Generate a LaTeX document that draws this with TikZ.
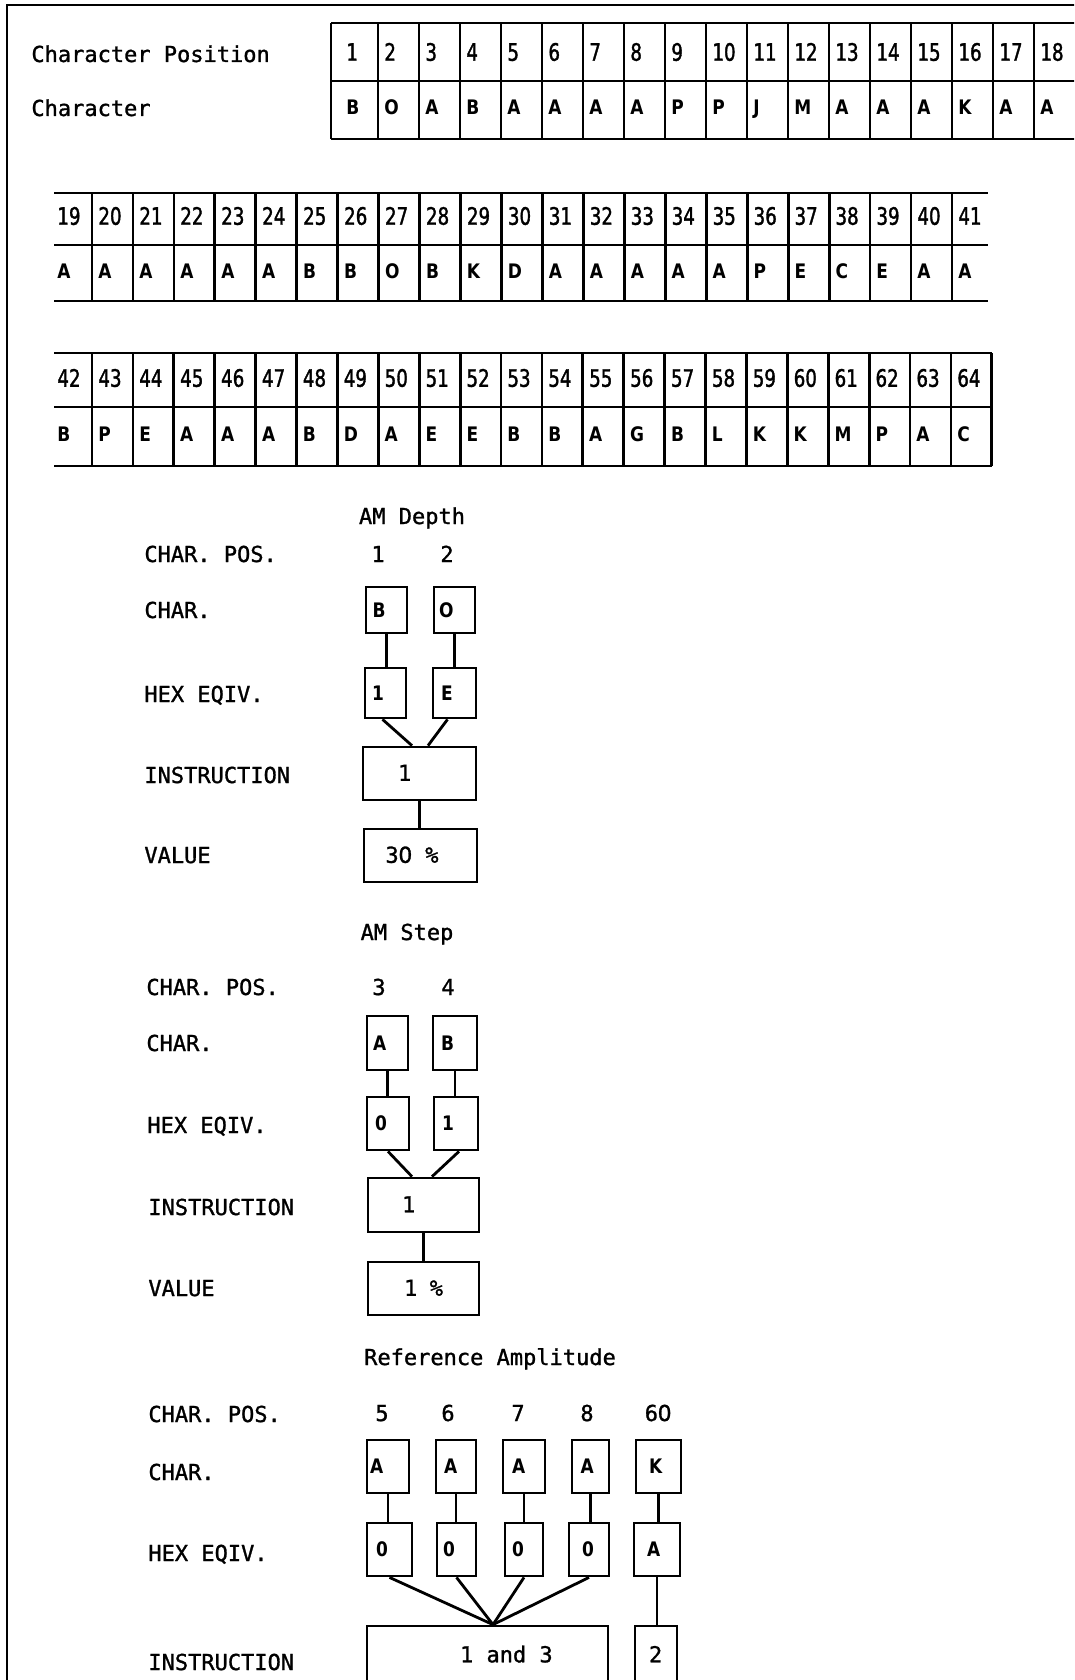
\documentclass[tikz,border=0pt]{standalone}
\usepackage{fontspec}
\newfontfamily\LabFam[FakeBold=1.2]{DejaVu Sans Mono}
\newfontfamily\NumFam[FakeStretch=0.76,FakeBold=1.4]{DejaVu Sans}
\newfontfamily\ZroFam[FakeBold=1.2]{DejaVu Sans}
\newfontfamily\BoxFam[FakeStretch=0.85]{DejaVu Sans}
\newcommand\LabFont{\LabFam\mdseries\fontsize{22}{24}\selectfont}
\newcommand\BxTxt{\LabFont\spaceskip=0pt\relax\xspaceskip=0pt\relax}
\newcommand\NumFont{\NumFam\fontsize{24}{26}\selectfont}
\newcommand\BoxFont{\BoxFam\bfseries\fontsize{20}{22}\selectfont}
\newcommand\Zro{\makebox[0.602em]{\ZroFam\mdseries 0}}
\newcommand\cbox[7]{%
  \pgfmathsetmacro\bxX{(#2+#4)/2}%
  \pgfmathsetmacro\bxY{(#3+#5)/2}%
  \pgfmathsetmacro\bxW{#4-#2}%
  \pgfmathsetmacro\bxH{#5-#3}%
  \pgfmathsetmacro\bxT{\bxW-2*#7}%
  \node[bxs, minimum width=\bxW pt, minimum height=\bxH pt, text width=\bxT pt, inner xsep=#7 pt] (#1) at (\bxX,\bxY) {#6};}
\begin{document}
\begin{tikzpicture}[x=1pt,y=-1pt,line width=2.8pt,
  labst/.style={font=\LabFont, inner sep=0pt, text height=16pt, text depth=0pt},
  numst/.style={font=\NumFont, inner sep=0pt, text height=17.5pt, text depth=0pt, anchor=west},
  cellst/.style={font=\BoxFont, inner sep=0pt, text height=14.6pt, text depth=0pt, anchor=west},
  bxs/.style={draw, line width=2.8pt, inner ysep=0pt, align=left, font=\BoxFont, text height=14.6pt, text depth=0pt}]
\useasboundingbox (0,0) rectangle (1074,1680);
\clip (0,0) rectangle (1074,1680);
\fill[white] (0,0) rectangle (1074,1680);
% outer frame
\draw (7,1690) -- (7,5) -- (1085,5);
% ---------- top table ----------
\node[labst, anchor=west] (lcp) at (30,54) {Character Position};
\node[labst, anchor=west] (lch) at (30,108) {Character};
\draw (331,23) -- (1085,23) (331,81) -- (1085,81) (331,139) -- (1085,139);
\draw (331,23) -- (331,139);
\foreach \k in {0,...,16} \draw ({378+41*\k},23) -- ({378+41*\k},139);
\foreach \c [count=\i] in {B,O,A,B,A,A,A,A,P,P,J,M,A,A,A,K,A,A} {
  \pgfmathsetmacro\xl{\i==1 ? 340 : 378+41*(\i-2)}
  \node[numst] (ta\i) at ({\xl+5},52) {\i};
  \node[cellst] (tb\i) at ({\xl+5},107) {\c};
}
% ---------- second table ----------
\draw (54,193) -- (988,193) (54,245) -- (988,245) (54,301) -- (988,301);
\foreach \k in {0,...,21} \draw ({92+40.95*\k},193) -- ({92+40.95*\k},301);
\foreach \c [count=\i] in {A,A,A,A,A,A,B,B,O,B,K,D,A,A,A,A,A,P,E,C,E,A,A} {
  \pgfmathsetmacro\xl{\i==1 ? 51 : 92+40.95*(\i-2)}
  \pgfmathtruncatemacro\nn{\i+18}
  \node[numst] (tc\nn) at ({\xl+5},216) {\nn};
  \node[cellst] (td\nn) at ({\xl+5},271) {\c};
}
% ---------- third table ----------
\draw (54,353) -- (992,353) (54,407) -- (992,407) (54,466) -- (992,466);
\foreach \k in {0,...,22} \draw ({92+40.9*\k},353) -- ({92+40.9*\k},466);
\foreach \c [count=\i] in {B,P,E,A,A,A,B,D,A,E,E,B,B,A,G,B,L,K,K,M,P,A,C} {
  \pgfmathsetmacro\xl{\i==1 ? 51 : 92+40.9*(\i-2)}
  \pgfmathtruncatemacro\nn{\i+41}
  \node[numst] (te\nn) at ({\xl+5},378) {\nn};
  \node[cellst] (tf\nn) at ({\xl+5},434) {\c};
}
% ---------- AM Depth ----------
\node[labst] (amd) at (412,516) {AM Depth};
\node[labst, anchor=west] (s1a) at (143,554) {CHAR. POS.};
\node[labst, anchor=west] (s1b) at (143,610) {CHAR.};
\node[labst, anchor=west] (s1c) at (143,694) {HEX EQIV.};
\node[labst, anchor=west] (s1d) at (143,775) {INSTRUCTION};
\node[labst, anchor=west] (s1e) at (143,855) {VALUE};
\node[labst] (s1p1) at (378,554) {1};
\node[labst] (s1p2) at (447,554) {2};
\cbox{s1c1}{366}{587}{407}{633}{B}{6.5}
\cbox{s1c2}{434}{587}{475}{633}{O}{5}
\cbox{s1h1}{365}{668}{406}{718}{1}{7}
\cbox{s1h2}{433}{668}{476}{718}{E}{8}
\cbox{s1i}{363}{747}{476}{800}{\BxTxt 1}{35}
\cbox{s1v}{364}{829}{477}{882}{\BxTxt 3\Zro{} \%}{21.5}
\draw (s1c1.south) -- (s1c1.south |- s1h1.north);
\draw (s1c2.south) -- (s1c2.south |- s1h2.north);
\draw ([xshift=-3pt]s1h1.south) -- ([xshift=-7.5pt]s1i.north);
\draw ([xshift=-7pt]s1h2.south) -- ([xshift=8.5pt]s1i.north);
\draw (s1i.south) -- (s1i.south |- s1v.north);
% ---------- AM Step ----------
\node[labst] (ams) at (407,932) {AM Step};
\node[labst, anchor=west] (s2a) at (145,987) {CHAR. POS.};
\node[labst, anchor=west] (s2b) at (145,1043) {CHAR.};
\node[labst, anchor=west] (s2c) at (146,1125) {HEX EQIV.};
\node[labst, anchor=west] (s2d) at (147,1207) {INSTRUCTION};
\node[labst, anchor=west] (s2e) at (147,1288) {VALUE};
\node[labst] (s2p1) at (379,987) {3};
\node[labst] (s2p2) at (448,987) {4};
\cbox{s2c1}{367}{1016}{408}{1070}{A}{6}
\cbox{s2c2}{433}{1016}{477}{1070}{B}{8}
\cbox{s2h1}{367}{1097}{409}{1150}{0}{8}
\cbox{s2h2}{434}{1097}{478}{1150}{1}{8}
\cbox{s2i}{368}{1178}{479}{1232}{\BxTxt 1}{34}
\cbox{s2v}{368}{1262}{479}{1315}{\BxTxt 1 \%}{36}
\draw (s2c1.south) -- (s2c1.south |- s2h1.north);
\draw (s2c2.south) -- (s2c2.south |- s2h2.north);
\draw (s2h1.south) -- ([xshift=-11.5pt]s2i.north);
\draw ([xshift=3pt]s2h2.south) -- ([xshift=8.5pt]s2i.north);
\draw (s2i.south) -- (s2i.south |- s2v.north);
% ---------- Reference Amplitude ----------
\node[labst] (refa) at (490,1357) {Reference Amplitude};
\node[labst, anchor=west] (s3a) at (147,1414) {CHAR. POS.};
\node[labst, anchor=west] (s3b) at (147,1472) {CHAR.};
\node[labst, anchor=west] (s3c) at (147,1553) {HEX EQIV.};
\node[labst, anchor=west] (s3d) at (147,1662) {INSTRUCTION};
\node[labst] (s3p1) at (382,1413) {5};
\node[labst] (s3p2) at (448,1413) {6};
\node[labst] (s3p3) at (518,1413) {7};
\node[labst] (s3p4) at (587,1413) {8};
\node[labst] (s3p5) at (658,1413) {6\Zro};
\cbox{s3c1}{367}{1440}{409}{1493}{A}{3}
\cbox{s3c2}{436}{1440}{476}{1493}{A}{8}
\cbox{s3c3}{503}{1440}{545}{1493}{A}{9}
\cbox{s3c4}{572}{1440}{609}{1493}{A}{8.5}
\cbox{s3c5}{636}{1440}{681}{1493}{K}{13}
\cbox{s3h1}{367}{1523}{412}{1576}{0}{9}
\cbox{s3h2}{437}{1523}{476}{1576}{0}{6}
\cbox{s3h3}{505}{1523}{543}{1576}{0}{7}
\cbox{s3h4}{569}{1523}{609}{1576}{0}{13}
\cbox{s3h5}{634}{1523}{680}{1576}{A}{13}
\cbox{s3i}{367}{1626}{608}{1684}{\BxTxt\hspace*{53pt}1 and 3}{40}
\cbox{s3i2}{635}{1626}{677}{1684}{\BxTxt 2}{14}
\coordinate (s3m) at ([xshift=5.5pt]s3i.north);
\foreach \j in {1,...,5} \draw (s3c\j.south) -- (s3c\j.south |- s3h\j.north);
\foreach \j in {1,...,4} \draw (s3h\j.south) -- (s3m);
\draw (s3h5.south) -- (s3h5.south |- s3i2.north);
\end{tikzpicture}
\end{document}
